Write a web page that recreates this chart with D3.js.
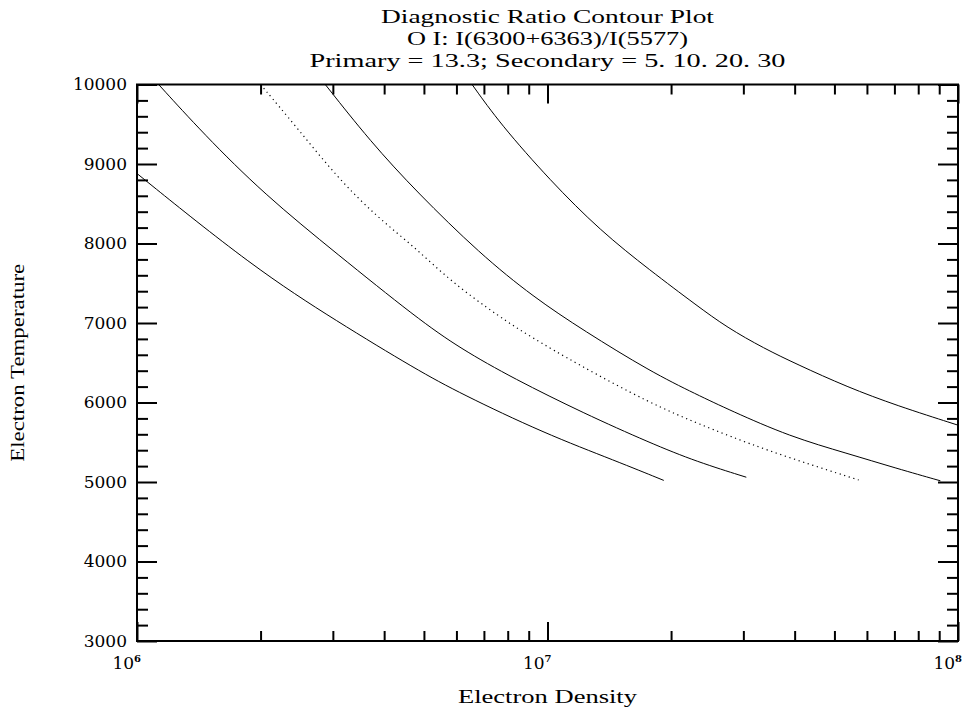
<!DOCTYPE html>
<html>
<head>
<meta charset="utf-8">
<script src="https://cdn.jsdelivr.net/npm/d3@7"></script>
<style>
  body { margin: 0; background: #fff; }
  svg text { fill: #000; }
  .tick line { stroke: #000; stroke-width: 2; }
  .domain { display: none; }
</style>
</head>
<body>
<div id="chart"></div>
<script>
// Contour levels: ratio and dash style
const ratios = [5, 10, 13.3, 20, 30];
const dashed = [false, false, true, false, false];

// Electron density / temperature along each contour
const dens5 = [1.0e6, 1.92e6, 3.07e6, 4.81e6, 6.13e6, 9.79e6, 1.476e7, 1.92e7];
const temp5 = [8880, 7700, 7020, 6410, 6115, 5615, 5260, 5020];

const dens10 = [1.129e6, 1.452e6, 2.04e6, 3.07e6, 4.81e6, 6.13e6, 8.28e6, 1.225e7, 1.78e7, 2.31e7, 3.05e7];
const temp10 = [10000, 9380, 8620, 7870, 7060, 6680, 6300, 5865, 5490, 5255, 5060];

const dens133 = [2.0e6, 2.45e6, 3.07e6, 3.85e6, 4.76e6, 5.79e6, 7.67e6, 9.08e6, 1.18e7, 1.78e7, 2.31e7, 3.37e7, 5.73e7];
const temp133 = [10000, 9460, 8835, 8330, 7950, 7530, 7070, 6830, 6485, 5990, 5740, 5405, 5025];

const dens20 = [2.875e6, 3.70e6, 4.81e6, 6.85e6, 9.25e6, 1.225e7, 1.78e7, 2.31e7, 2.79e7, 3.90e7, 5.37e7, 7.10e7, 9.06e7];
const temp20 = [10000, 9285, 8645, 7870, 7325, 6905, 6390, 6100, 5900, 5570, 5360, 5170, 5015];

const dens30 = [6.55e6, 7.67e6, 1.016e7, 1.345e7, 1.78e7, 2.31e7, 2.735e7, 3.37e7, 4.055e7, 5.37e7, 7.10e7, 1.0e8];
const temp30 = [10000, 9505, 8790, 8160, 7660, 7220, 6945, 6680, 6480, 6195, 5960, 5715];

const densities = [dens5, dens10, dens133, dens20, dens30];
const temps = [temp5, temp10, temp133, temp20, temp30];

// Axis ticks
const yMajor = [3000, 4000, 5000, 6000, 7000, 8000, 9000, 10000];
const xMajor = [1e6, 1e7, 1e8];
const xExp = ["6", "7", "8"];

const titleLines = [
  "Diagnostic Ratio Contour Plot",
  "O I: I(6300+6363)/I(5577)",
  "Primary = 13.3; Secondary = 5. 10. 20. 30"
];
const titleWidths = [333, 281, 476];

// Layout
const W = 974, H = 708;
const margin = { top: 84.5, right: 16, bottom: 67, left: 137 };
const width = W - margin.left - margin.right;
const height = H - margin.top - margin.bottom;

const root = d3.select("#chart").append("svg")
  .attr("width", W)
  .attr("height", H);

const svg = root.append("g")
  .attr("transform", `translate(${margin.left},${margin.top})`);

const x = d3.scaleLog().domain([1e6, 1e8]).range([0, width]);
const y = d3.scaleLinear().domain([3000, 10000]).range([height, 0]);

// minor ticks
const yMinor = d3.range(3000, 10001, 200).filter(v => v % 1000 !== 0);
const xMinor = [];
[1e6, 1e7].forEach(d => { for (let k = 2; k <= 9; k++) xMinor.push(d * k); });

const serif = "'DejaVu Serif', serif";
const cond = "'Liberation Serif', serif";

// left axis
svg.append("g")
  .call(d3.axisLeft(y).tickValues(yMajor).tickSize(-20).tickPadding(10).tickFormat(d3.format("d")))
  .call(g => g.selectAll("text").attr("font-family", serif).attr("font-size", 17));
svg.append("g")
  .call(d3.axisLeft(y).tickValues(yMinor).tickSize(-11).tickFormat(""));

// right axis
svg.append("g").attr("transform", `translate(${width},0)`)
  .call(d3.axisRight(y).tickValues(yMajor).tickSize(-20).tickFormat(""));
svg.append("g").attr("transform", `translate(${width},0)`)
  .call(d3.axisRight(y).tickValues(yMinor).tickSize(-11).tickFormat(""));

// bottom / top axes
svg.append("g").attr("transform", `translate(0,${height})`)
  .call(d3.axisBottom(x).tickValues(xMajor).tickSize(-19).tickFormat(""));
svg.append("g").attr("transform", `translate(0,${height})`)
  .call(d3.axisBottom(x).tickValues(xMinor).tickSize(-10).tickFormat(""));
svg.append("g")
  .call(d3.axisTop(x).tickValues(xMajor).tickSize(-19).tickFormat(""));
svg.append("g")
  .call(d3.axisTop(x).tickValues(xMinor).tickSize(-10).tickFormat(""));

// x tick labels with exponent
const xl = svg.append("g").selectAll("text")
  .data(xMajor)
  .join("text")
  .attr("x", d => x(d) + 4)
  .attr("y", height + 28)
  .attr("text-anchor", "end")
  .attr("font-family", serif)
  .attr("font-size", 17);
xl.append("tspan").text("10");
xl.append("tspan")
  .attr("dy", -7)
  .attr("font-size", 10)
  .attr("font-weight", "bold")
  .text((d, i) => xExp[i]);

// frame
svg.append("rect")
  .attr("width", width)
  .attr("height", height)
  .attr("fill", "none")
  .attr("stroke", "#000")
  .attr("stroke-width", 2);

// contours (smoothed through the read points)
const line = d3.line()
  .x(d => x(d[0]))
  .y(d => y(d[1]))
  .curve(d3.curveBasis);

svg.append("g").selectAll("path")
  .data(ratios.map((r, i) => densities[i].map((n, j) => [n, temps[i][j]])))
  .join("path")
  .attr("d", line)
  .attr("fill", "none")
  .attr("stroke", "#000")
  .attr("stroke-width", (d, i) => dashed[i] ? 1.2 : 1)
  .attr("stroke-dasharray", (d, i) => dashed[i] ? "1.2,3.6" : null);

// titles
root.append("g").selectAll("text")
  .data(titleLines)
  .join("text")
  .attr("x", margin.left + width / 2)
  .attr("y", (d, i) => 23 + i * 22)
  .attr("text-anchor", "middle")
  .attr("font-family", cond)
  .attr("font-size", 19)
  .attr("textLength", (d, i) => titleWidths[i])
  .attr("lengthAdjust", "spacingAndGlyphs")
  .text(d => d);

root.append("text")
  .attr("x", margin.left + width / 2)
  .attr("y", 703)
  .attr("text-anchor", "middle")
  .attr("font-family", cond)
  .attr("font-size", 19)
  .attr("textLength", 179)
  .attr("lengthAdjust", "spacingAndGlyphs")
  .text("Electron Density");

root.append("text")
  .attr("transform", `translate(24,${margin.top + height / 2}) rotate(-90)`)
  .attr("text-anchor", "middle")
  .attr("font-family", cond)
  .attr("font-size", 19)
  .attr("textLength", 198)
  .attr("lengthAdjust", "spacingAndGlyphs")
  .text("Electron Temperature");
</script>
</body>
</html>
